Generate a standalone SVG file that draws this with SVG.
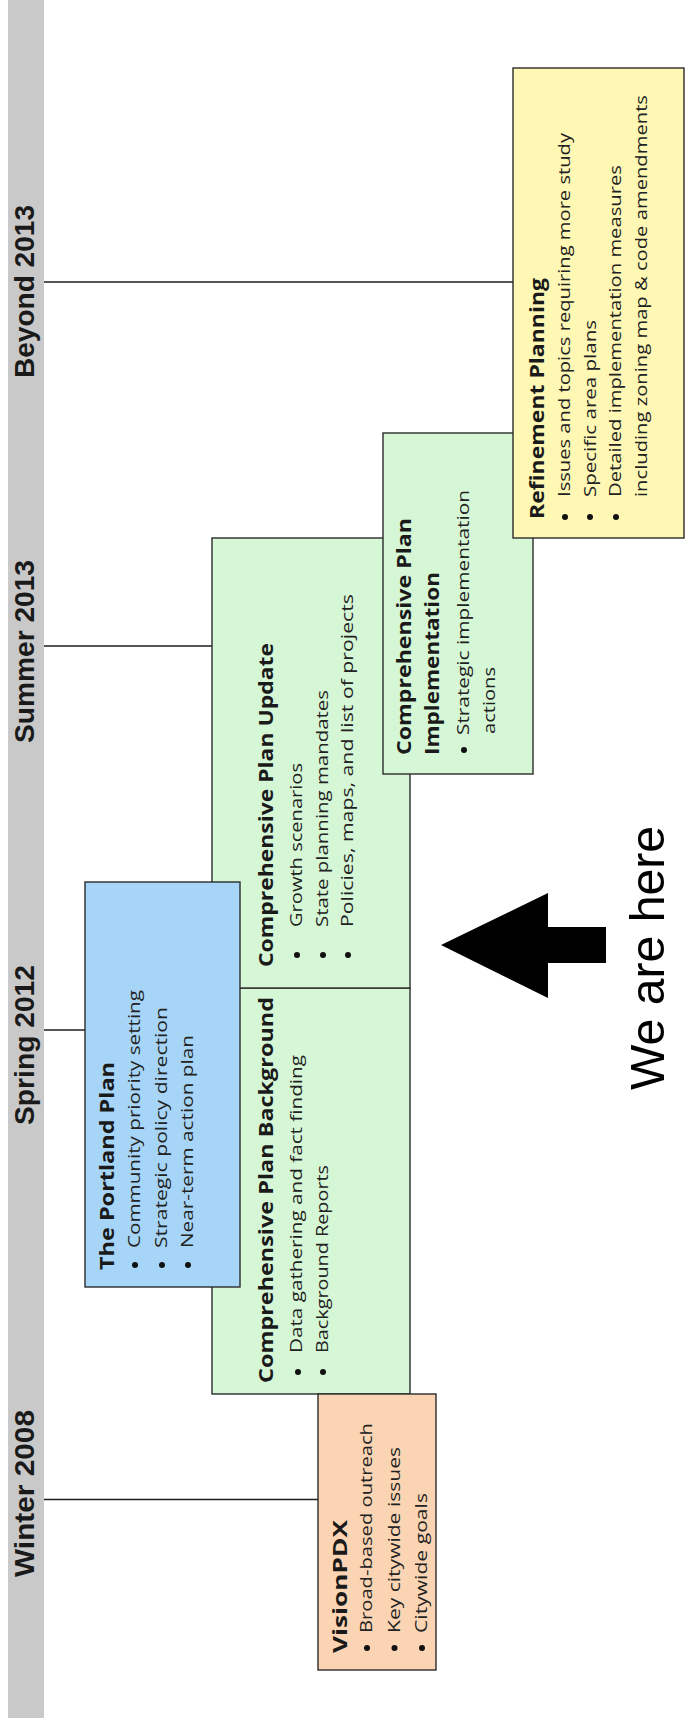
<svg xmlns="http://www.w3.org/2000/svg" width="686" height="1729" viewBox="0 0 686 1729">
<style>
.bar{fill:#c9c9c9}
.lbl{font-family:"Liberation Sans",Arial,sans-serif;font-weight:bold;font-size:28px;fill:#1a1a1a}
.box{stroke:#2b2b2b;stroke-width:1.4}
.yellow{fill:#fff8b4}
.green{fill:#d6f7d6}
.blue{fill:#a7d5f8}
.peach{fill:#fbd5b3}
.ttl{font-family:"Open Sans","Noto Sans",sans-serif;font-weight:bold;font-size:19px;fill:#1a1a1a}
.txt{font-family:"Open Sans","Noto Sans",sans-serif;font-size:17px;fill:#222}
.dot{fill:#111}
.conn{stroke:#1e1e1e;stroke-width:1.5;fill:none}
.big{font-family:"Liberation Sans",Arial,sans-serif;font-size:48px;fill:#000}
</style>
<rect width="686" height="1729" fill="#ffffff"/>
<g id="timeline">
<rect class="bar" x="8" y="0" width="36" height="1718"/>
<text class="lbl" transform="translate(34 378) rotate(-90)" textLength="173" lengthAdjust="spacingAndGlyphs">Beyond 2013</text>
<text class="lbl" transform="translate(34 743) rotate(-90)" textLength="183" lengthAdjust="spacingAndGlyphs">Summer 2013</text>
<text class="lbl" transform="translate(34 1125) rotate(-90)" textLength="160" lengthAdjust="spacingAndGlyphs">Spring 2012</text>
<text class="lbl" transform="translate(34 1577) rotate(-90)" textLength="167" lengthAdjust="spacingAndGlyphs">Winter 2008</text>
</g>
<g id="connectors">
<line class="conn" x1="44" y1="282" x2="513" y2="282"/>
<line class="conn" x1="44" y1="646" x2="212" y2="646"/>
<line class="conn" x1="44" y1="1030" x2="85" y2="1030"/>
<line class="conn" x1="44" y1="1499.5" x2="318" y2="1499.5"/>
</g>
<g id="background">
<rect class="box green" x="212" y="988" width="198" height="406"/>
<text class="ttl" transform="translate(273 1383) rotate(-90)" textLength="386" lengthAdjust="spacingAndGlyphs">Comprehensive Plan Background</text>
<circle class="dot" cx="298" cy="1372" r="3"/>
<circle class="dot" cx="323" cy="1372" r="3"/>
<text class="txt" transform="translate(302 1353) rotate(-90)" textLength="298" lengthAdjust="spacingAndGlyphs">Data gathering and fact finding</text>
<text class="txt" transform="translate(328 1353) rotate(-90)" textLength="188" lengthAdjust="spacingAndGlyphs">Background Reports</text>
</g>
<g id="update">
<rect class="box green" x="212" y="538" width="198" height="450"/>
<text class="ttl" transform="translate(273 967) rotate(-90)" textLength="324" lengthAdjust="spacingAndGlyphs">Comprehensive Plan Update</text>
<circle class="dot" cx="297" cy="955" r="3"/>
<circle class="dot" cx="323" cy="955" r="3"/>
<circle class="dot" cx="348" cy="955" r="3"/>
<text class="txt" transform="translate(302 927) rotate(-90)" textLength="164" lengthAdjust="spacingAndGlyphs">Growth scenarios</text>
<text class="txt" transform="translate(328 927) rotate(-90)" textLength="237" lengthAdjust="spacingAndGlyphs">State planning mandates</text>
<text class="txt" transform="translate(353 927) rotate(-90)" textLength="333" lengthAdjust="spacingAndGlyphs">Policies, maps, and list of projects</text>
</g>
<g id="implementation">
<rect class="box green" x="383" y="433" width="150" height="341"/>
<text class="ttl" transform="translate(411 755) rotate(-90)" textLength="237" lengthAdjust="spacingAndGlyphs">Comprehensive Plan</text>
<text class="ttl" transform="translate(439 755) rotate(-90)" textLength="183" lengthAdjust="spacingAndGlyphs">Implementation</text>
<circle class="dot" cx="464" cy="750" r="3"/>
<text class="txt" transform="translate(469 735) rotate(-90)" textLength="245" lengthAdjust="spacingAndGlyphs">Strategic implementation</text>
<text class="txt" transform="translate(495 734) rotate(-90)" textLength="67" lengthAdjust="spacingAndGlyphs">actions</text>
</g>
<g id="refinement">
<rect class="box yellow" x="513" y="68" width="171" height="470"/>
<text class="ttl" transform="translate(544 519) rotate(-90)" textLength="241" lengthAdjust="spacingAndGlyphs">Refinement Planning</text>
<circle class="dot" cx="565" cy="517" r="3"/>
<circle class="dot" cx="590" cy="517" r="3"/>
<circle class="dot" cx="616" cy="517" r="3"/>
<text class="txt" transform="translate(570 497) rotate(-90)" textLength="364" lengthAdjust="spacingAndGlyphs">Issues and topics requiring more study</text>
<text class="txt" transform="translate(596 497) rotate(-90)" textLength="177" lengthAdjust="spacingAndGlyphs">Specific area plans</text>
<text class="txt" transform="translate(621 497) rotate(-90)" textLength="332" lengthAdjust="spacingAndGlyphs">Detailed implementation measures</text>
<text class="txt" transform="translate(647 497) rotate(-90)" textLength="402" lengthAdjust="spacingAndGlyphs">including zoning map &amp; code amendments</text>
</g>
<g id="portland">
<rect class="box blue" x="85" y="882" width="155" height="405"/>
<text class="ttl" transform="translate(114 1270) rotate(-90)" textLength="208" lengthAdjust="spacingAndGlyphs">The Portland Plan</text>
<circle class="dot" cx="135" cy="1265" r="3"/>
<circle class="dot" cx="162" cy="1265" r="3"/>
<circle class="dot" cx="188" cy="1265" r="3"/>
<text class="txt" transform="translate(140 1248) rotate(-90)" textLength="258" lengthAdjust="spacingAndGlyphs">Community priority setting</text>
<text class="txt" transform="translate(167 1248) rotate(-90)" textLength="241" lengthAdjust="spacingAndGlyphs">Strategic policy direction</text>
<text class="txt" transform="translate(193 1248) rotate(-90)" textLength="213" lengthAdjust="spacingAndGlyphs">Near-term action plan</text>
</g>
<g id="visionpdx">
<rect class="box peach" x="318" y="1394" width="118" height="276"/>
<text class="ttl" transform="translate(347 1653) rotate(-90)" textLength="133" lengthAdjust="spacingAndGlyphs">VisionPDX</text>
<circle class="dot" cx="367" cy="1648" r="3"/>
<circle class="dot" cx="394.5" cy="1648" r="3"/>
<circle class="dot" cx="422" cy="1648" r="3"/>
<text class="txt" transform="translate(372 1633) rotate(-90)" textLength="210" lengthAdjust="spacingAndGlyphs">Broad-based outreach</text>
<text class="txt" transform="translate(399.5 1633) rotate(-90)" textLength="186" lengthAdjust="spacingAndGlyphs">Key citywide issues</text>
<text class="txt" transform="translate(427 1633) rotate(-90)" textLength="140" lengthAdjust="spacingAndGlyphs">Citywide goals</text>
</g>
<g id="we-are-here">
<polygon points="441,945 548,893 548,927 606,927 606,963 548,963 548,998" fill="#000"/>
<text class="big" transform="translate(664 1090) rotate(-90)" textLength="264" lengthAdjust="spacingAndGlyphs">We are here</text>
</g>
</svg>
